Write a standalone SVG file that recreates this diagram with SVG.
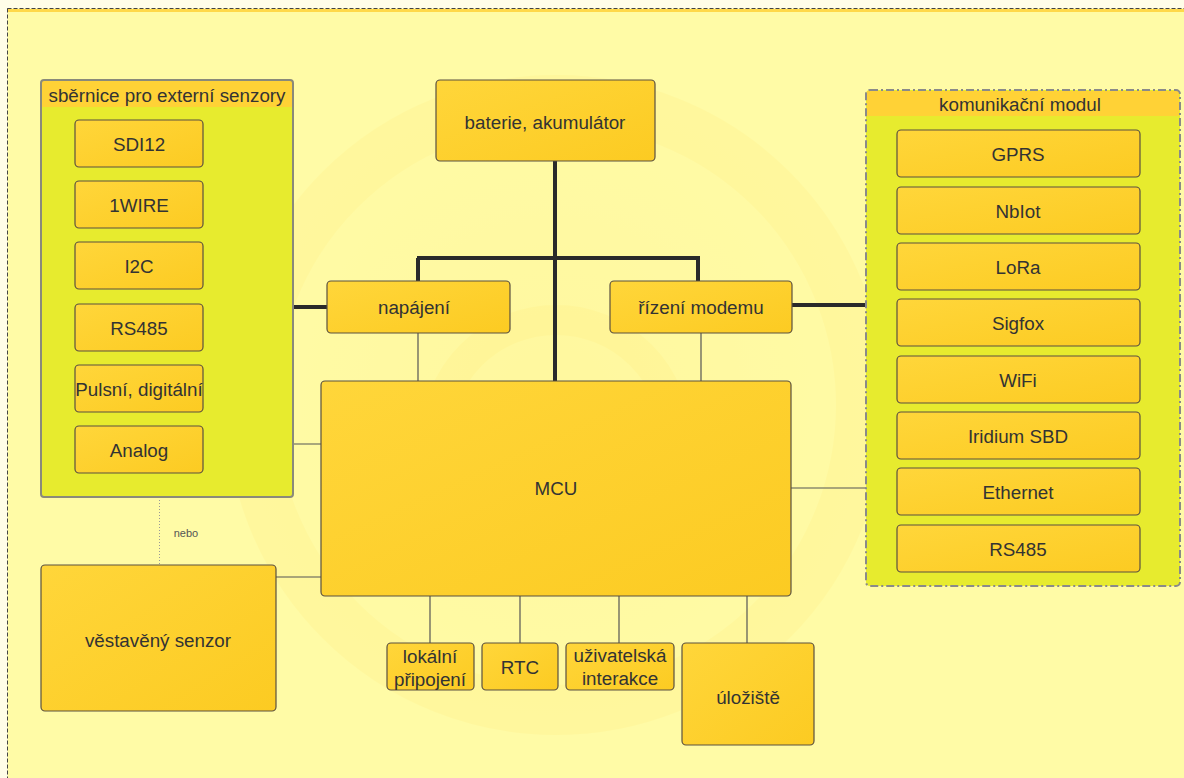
<svg xmlns="http://www.w3.org/2000/svg" width="1184" height="778" viewBox="0 0 1184 778">
<defs>
<linearGradient id="boxg" x1="0" y1="0" x2="1" y2="1">
<stop offset="0" stop-color="#FFD63A"/>
<stop offset="1" stop-color="#FCCB22"/>
</linearGradient>
<radialGradient id="glow" cx="0.5" cy="0.5" r="0.5">
<stop offset="0" stop-color="#FFE46A" stop-opacity="0.3"/>
<stop offset="1" stop-color="#FFE46A" stop-opacity="0"/>
</radialGradient>
<style>
.box{fill:url(#boxg);stroke:#5a5040;stroke-width:1.2}
.t{font-family:"Liberation Sans",Arial,sans-serif;font-size:18.8px;fill:#333;text-anchor:middle;dominant-baseline:central}
.thick{stroke:#2a2a2a;stroke-width:4;fill:none}
.thin{stroke:#555;stroke-width:1.2;fill:none}
.panelbody{fill:#E7EB2E}
.hdr{fill:#FFD236}
</style>
</defs>
<rect width="1184" height="778" fill="#FFFDE8"/>
<rect x="7.5" y="8.5" width="1200" height="800" fill="#FFFBA6" stroke="#444" stroke-width="1" stroke-dasharray="4,2"/>
<rect x="8" y="9" width="1176" height="3" fill="#FFD84A"/>
<g id="watermark" opacity="0.4">
<circle cx="556" cy="405" r="330" fill="url(#glow)"/>
<circle cx="556" cy="405" r="305" fill="none" stroke="#FFE060" stroke-width="50" stroke-opacity="0.3"/>
<circle cx="556" cy="440" r="120" fill="none" stroke="#FFD84A" stroke-width="30" stroke-opacity="0.25"/>
</g>
<g id="connectors">
<path class="thick" d="M555 161 V381 M417 258 H700 M418 258 V281 M698 258 V281 M293 307 H327 M791 305 H866"/>
<path class="thin" d="M418 333 V381 M701 333 V381 M293 444 H321 M791 488 H866 M276 577 H321 M430 596 V643 M520 596 V643 M619 596 V643 M747 596 V643"/>
<path d="M159.5 497 V565" stroke="#999" stroke-width="1" stroke-dasharray="1,2"/>
<text x="186" y="533" font-family="Liberation Sans,Arial,sans-serif" font-size="11" fill="#555" text-anchor="middle" dominant-baseline="central">nebo</text>
</g>
<g id="sbernice">
<rect x="41" y="80" width="252" height="417" rx="3" class="panelbody"/>
<rect x="42" y="81" width="250" height="26" class="hdr"/>
<rect x="41" y="80" width="252" height="417" rx="3" fill="none" stroke="#8a8a7a" stroke-width="2"/>
<text class="t" x="167" y="95">sběrnice pro externí senzory</text>
</g>
<g id="sdi12"><rect class="box" x="75" y="120" width="128" height="47" rx="4"/><text class="t" x="139" y="144">SDI12</text></g>
<g id="onewire"><rect class="box" x="75" y="181" width="128" height="47" rx="4"/><text class="t" x="139" y="205">1WIRE</text></g>
<g id="i2c"><rect class="box" x="75" y="242" width="128" height="47" rx="4"/><text class="t" x="139" y="266">I2C</text></g>
<g id="rs485a"><rect class="box" x="75" y="304" width="128" height="47" rx="4"/><text class="t" x="139" y="328">RS485</text></g>
<g id="pulsni"><rect class="box" x="75" y="365" width="128" height="47" rx="4"/><text class="t" x="139" y="389">Pulsní, digitální</text></g>
<g id="analog"><rect class="box" x="75" y="426" width="128" height="47" rx="4"/><text class="t" x="139" y="450">Analog</text></g>
<g id="komunikacni">
<rect x="866" y="90" width="314" height="496" rx="4" class="panelbody"/>
<rect x="867" y="91" width="312" height="25" class="hdr"/>
<rect x="866" y="90" width="314" height="496" rx="4" fill="none" stroke="#8a8a8a" stroke-width="2" stroke-dasharray="8,3,2,3"/>
<text class="t" x="1020" y="104">komunikační modul</text>
</g>
<g id="gprs"><rect class="box" x="897" y="130" width="243" height="47" rx="4"/><text class="t" x="1018" y="154">GPRS</text></g>
<g id="nbiot"><rect class="box" x="897" y="187" width="243" height="47" rx="4"/><text class="t" x="1018" y="211">NbIot</text></g>
<g id="lora"><rect class="box" x="897" y="243" width="243" height="47" rx="4"/><text class="t" x="1018" y="267">LoRa</text></g>
<g id="sigfox"><rect class="box" x="897" y="299" width="243" height="47" rx="4"/><text class="t" x="1018" y="323">Sigfox</text></g>
<g id="wifi"><rect class="box" x="897" y="356" width="243" height="47" rx="4"/><text class="t" x="1018" y="380">WiFi</text></g>
<g id="iridium"><rect class="box" x="897" y="412" width="243" height="47" rx="4"/><text class="t" x="1018" y="436">Iridium SBD</text></g>
<g id="ethernet"><rect class="box" x="897" y="468" width="243" height="47" rx="4"/><text class="t" x="1018" y="492">Ethernet</text></g>
<g id="rs485b"><rect class="box" x="897" y="525" width="243" height="47" rx="4"/><text class="t" x="1018" y="549">RS485</text></g>
<g id="baterie"><rect class="box" x="436" y="80" width="219" height="81" rx="4"/><text class="t" x="545" y="122">baterie, akumulátor</text></g>
<g id="napajeni"><rect class="box" x="327" y="281" width="183" height="52" rx="4"/><text class="t" x="414" y="307">napájení</text></g>
<g id="rizeni"><rect class="box" x="610" y="281" width="182" height="52" rx="4"/><text class="t" x="701" y="307">řízení modemu</text></g>
<g id="mcu"><rect class="box" x="321" y="381" width="470" height="215" rx="4"/><text class="t" x="556" y="488">MCU</text></g>
<g id="vestaveny"><rect class="box" x="41" y="565" width="235" height="146" rx="4"/><text class="t" x="158" y="640">věstavěný senzor</text></g>
<g id="lokalni"><rect class="box" x="387" y="643" width="87" height="47" rx="4"/><text class="t" x="430" y="656">lokální</text><text class="t" x="430" y="679">připojení</text></g>
<g id="rtc"><rect class="box" x="482" y="643" width="76" height="47" rx="4"/><text class="t" x="520" y="667">RTC</text></g>
<g id="uzivatelska"><rect class="box" x="566" y="643" width="108" height="47" rx="4"/><text class="t" x="620" y="655">uživatelská</text><text class="t" x="620" y="678">interakce</text></g>
<g id="uloziste"><rect class="box" x="682" y="643" width="132" height="102" rx="4"/><text class="t" x="748" y="697">úložiště</text></g>
</svg>
